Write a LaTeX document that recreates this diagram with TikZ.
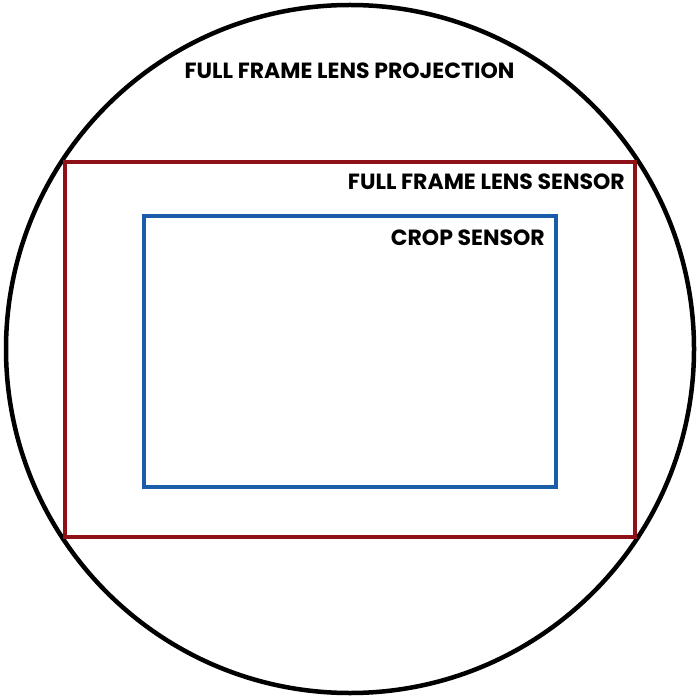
\documentclass[tikz,border=0pt]{standalone}
\usepackage{fontspec}
\setmainfont{Poppins}
\definecolor{lensred}{HTML}{8E1117}
\definecolor{cropblue}{HTML}{1B5CA8}
\begin{document}
\begin{tikzpicture}[x=1pt,y=-1pt,
  lbl/.style={font=\fontsize{22}{26}\selectfont\bfseries, text=black, inner sep=0pt},
  circ/.style={draw=black, line width=4.5pt},
  ffrect/.style={draw=lensred, line width=4pt},
  croprect/.style={draw=cropblue, line width=4pt}]
\useasboundingbox (0,0) rectangle (700,700);
\draw[circ] (350,349) circle[radius=344];
\draw[ffrect] (64.5,162) rectangle (634.5,537);
\draw[croprect] (143.5,216) rectangle (556,487);
\node[lbl] (proj) at (349.5,71) {FULL FRAME LENS PROJECTION};
\node[lbl, anchor=east] (ff) at (625,182) {FULL FRAME LENS SENSOR};
\node[lbl, anchor=east] (crop) at (545,238) {CROP SENSOR};
\end{tikzpicture}
\end{document}
